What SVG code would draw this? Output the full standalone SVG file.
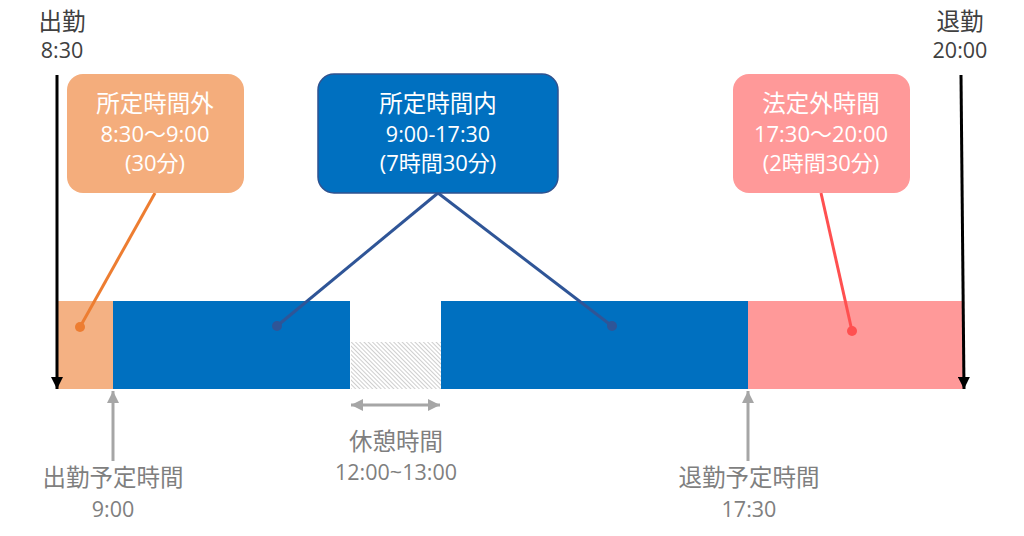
<svg xmlns="http://www.w3.org/2000/svg" width="1024" height="536" viewBox="0 0 1024 536">
<defs>
<style>
text{font-family:"Open Sans","Noto Sans CJK JP",sans-serif;font-size:21.5px;text-anchor:middle}
.cjk{font-size:23.5px}
.mix{font-size:22px}
.dark{fill:#404040}
.gray{fill:#7f7f7f}
.wt{fill:#ffffff}
.blk{stroke:#000;stroke-width:3;fill:none}
.gr{stroke:#a6a6a6;stroke-width:3;fill:none}
</style>
<pattern id="hatch" width="3" height="3" patternUnits="userSpaceOnUse" patternTransform="rotate(-45)">
<rect width="3" height="3" fill="#ffffff"/>
<line x1="0" y1="0" x2="0" y2="3" stroke="#b4b4b4" stroke-width="1.3"/>
</pattern>
<marker id="ab" viewBox="0 0 10 10" refX="10" refY="5" markerWidth="4" markerHeight="4" orient="auto" markerUnits="strokeWidth">
<path d="M0,0 L10,5 L0,10 z" fill="#000"/>
</marker>
<marker id="ag" viewBox="0 0 10 10" refX="10" refY="5" markerWidth="4" markerHeight="4" orient="auto-start-reverse" markerUnits="strokeWidth">
<path d="M0,0 L10,5 L0,10 z" fill="#a6a6a6"/>
</marker>
</defs>
<rect width="1024" height="536" fill="#ffffff"/>

<g id="bar">
<rect x="58" y="301" width="55" height="88" fill="#f4b183"/>
<rect x="113" y="301" width="237" height="88" fill="#0070c0"/>
<rect x="351" y="342" width="90" height="47" fill="url(#hatch)"/>
<rect x="441" y="301" width="307" height="88" fill="#0070c0"/>
<rect x="748" y="301" width="215" height="88" fill="#ff9999"/>
</g>

<g id="connectors">
<line x1="57" y1="75" x2="57" y2="389" class="blk" marker-end="url(#ab)"/>
<line x1="961" y1="75" x2="964" y2="389" class="blk" marker-end="url(#ab)"/>
<line x1="113" y1="461" x2="113" y2="391" class="gr" marker-end="url(#ag)"/>
<line x1="748" y1="461" x2="748" y2="391" class="gr" marker-end="url(#ag)"/>
<line x1="351" y1="405" x2="440" y2="405" class="gr" marker-start="url(#ag)" marker-end="url(#ag)"/>
<line x1="155" y1="193" x2="80" y2="327" stroke="#ed7d31" stroke-width="3"/>
<circle cx="80" cy="327" r="5" fill="#ed7d31"/>
<line x1="438" y1="193" x2="277" y2="326" stroke="#2f5597" stroke-width="3"/>
<line x1="438" y1="193" x2="612" y2="326" stroke="#2f5597" stroke-width="3"/>
<circle cx="277" cy="326" r="5" fill="#2f5597"/>
<circle cx="612" cy="326" r="5" fill="#2f5597"/>
<line x1="821" y1="193" x2="852" y2="331" stroke="#ff5050" stroke-width="3"/>
<circle cx="852" cy="331" r="5" fill="#ff5050"/>
</g>

<g id="box-outside">
<rect x="67" y="74" width="177" height="119" rx="16" fill="#f4ad7c"/>
<text x="155" y="112" class="wt cjk">所定時間外</text>
<text x="155" y="142" class="wt mix">8:30〜9:00</text>
<text x="155" y="171" class="wt mix">(30分)</text>
</g>

<g id="box-inside">
<rect x="318" y="74" width="240" height="119" rx="16" fill="#0070c0" stroke="#2f528f" stroke-width="1.5"/>
<text x="438" y="112" class="wt cjk">所定時間内</text>
<text x="438" y="142" class="wt">9:00-17:30</text>
<text x="438" y="171" class="wt mix">(7時間30分)</text>
</g>

<g id="box-legal">
<rect x="733" y="74" width="177" height="119" rx="16" fill="#ff9999"/>
<text x="821" y="112" class="wt cjk">法定外時間</text>
<text x="821" y="142" class="wt mix">17:30〜20:00</text>
<text x="821" y="171" class="wt mix">(2時間30分)</text>
</g>

<g id="label-start">
<text x="62" y="30" class="dark cjk">出勤</text>
<text x="62" y="58" class="dark">8:30</text>
</g>
<g id="label-end">
<text x="960" y="30" class="dark cjk">退勤</text>
<text x="960" y="58" class="dark">20:00</text>
</g>
<g id="label-sched-start">
<text x="113" y="486" class="gray cjk">出勤予定時間</text>
<text x="113" y="517" class="gray">9:00</text>
</g>
<g id="label-break">
<text x="396" y="450" class="gray cjk">休憩時間</text>
<text x="396" y="480" class="gray">12:00~13:00</text>
</g>
<g id="label-sched-end">
<text x="749" y="486" class="gray cjk">退勤予定時間</text>
<text x="749" y="517" class="gray">17:30</text>
</g>
</svg>
